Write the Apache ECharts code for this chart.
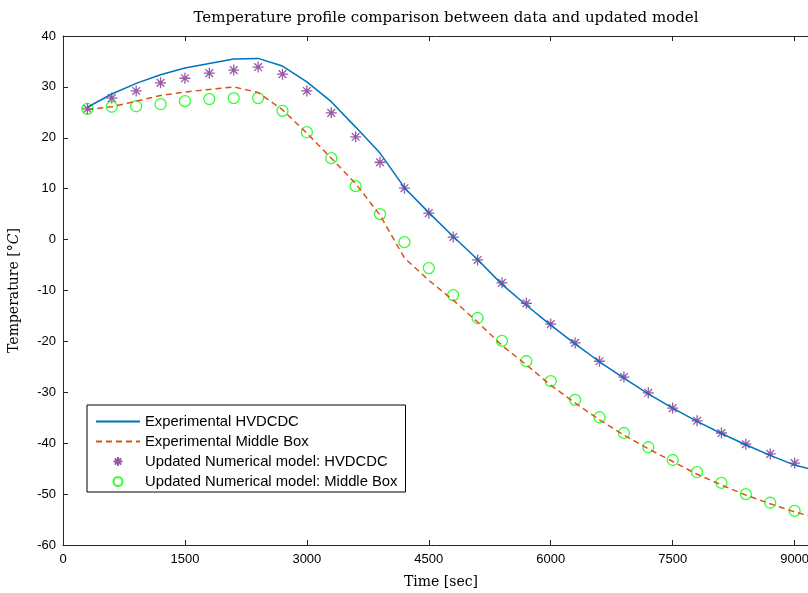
<!DOCTYPE html>
<html>
<head>
<meta charset="utf-8">
<script src="https://cdn.jsdelivr.net/npm/echarts@6/dist/echarts.min.js"></script>
<style>
  html, body { margin: 0; padding: 0; background: #fff; }
  #chart { width: 808px; height: 593px; }
</style>
</head>
<body>
<div id="chart"></div>
<script>
// time in seconds
const timeExp = [300, 600, 900, 1200, 1500, 1800, 2100, 2400, 2700, 3000, 3300, 3600, 3900, 4200, 4500, 4800,
  5100, 5400, 5700, 6000, 6300, 6600, 6900, 7200, 7500, 7800, 8100, 8400, 8700, 9000, 9300];
const expHvdcdc = [26.0, 28.6, 30.7, 32.4, 33.7, 34.6, 35.5, 35.6, 34.1, 31.0, 27.1, 22.1, 17.0, 10.2, 5.3, 0.6,
  -3.9, -8.8, -12.9, -16.8, -20.5, -24.0, -27.2, -30.3, -33.1, -35.7, -38.1, -40.3, -42.4, -44.3, -45.5];
const expMiddle = [25.5, 26.1, 27.2, 28.3, 29.0, 29.5, 30.0, 28.9, 25.5, 20.9, 16.0, 11.0, 4.8, -3.6, -8.0, -11.9,
  -16.2, -20.8, -24.6, -28.6, -32.1, -35.4, -38.4, -41.1, -43.6, -46.1, -48.2, -50.2, -51.9, -53.5, -54.8];

const timeNum = [300, 600, 900, 1200, 1500, 1800, 2100, 2400, 2700, 3000, 3300, 3600, 3900, 4200, 4500, 4800,
  5100, 5400, 5700, 6000, 6300, 6600, 6900, 7200, 7500, 7800, 8100, 8400, 8700, 9000];
const numHvdcdc = [25.7, 27.8, 29.2, 30.8, 31.7, 32.7, 33.3, 33.9, 32.5, 29.2, 24.9, 20.2, 15.2, 10.1, 5.2, 0.5,
  -4.0, -8.5, -12.5, -16.6, -20.3, -23.9, -27.0, -30.1, -33.1, -35.6, -38.0, -40.2, -42.1, -43.9];
const numMiddle = [25.7, 26.1, 26.2, 26.6, 27.2, 27.6, 27.8, 27.8, 25.3, 21.1, 16.0, 10.5, 5.0, -0.5, -5.6, -10.9,
  -15.4, -19.9, -23.9, -27.8, -31.5, -34.9, -38.0, -40.8, -43.3, -45.7, -47.8, -50.0, -51.7, -53.3];

const xTicks = [0, 1500, 3000, 4500, 6000, 7500, 9000];

const axisCol = '#262626';
const star = 'path://M0 5L10 5M5 0L5 10M1.5 1.5L8.5 8.5M8.5 1.5L1.5 8.5';

const zip = (xs, ys) => xs.map((x, i) => [x, ys[i]]);

let myChart = echarts.init(document.getElementById('chart'));
let option = {
  animation: false,
  title: {
    text: 'Temperature profile comparison between data and updated model',
    left: 441, textAlign: 'center', top: 6,
    textStyle: { fontFamily: 'DejaVu Serif', fontWeight: 'normal', fontSize: 15, color: '#000' }
  },
  grid: { left: 63, top: 36, bottom: 48, width: 756, outerBoundsMode: 'none' },
  xAxis: [{
    type: 'value', min: 0, max: 9300, interval: 1500,
    name: 'Time [sec]', nameLocation: 'middle', nameGap: 30,
    nameTextStyle: { fontFamily: 'DejaVu Serif', fontSize: 14, color: '#000' },
    axisLine: { onZero: false, lineStyle: { color: axisCol, width: 1 } },
    axisTick: { inside: true, length: 5, lineStyle: { color: axisCol } },
    axisLabel: { color: '#000', fontFamily: 'Liberation Sans', fontSize: 13, margin: 8,
      formatter: v => xTicks.includes(v) ? String(v) : '' },
    splitLine: { show: false }
  }, {
    type: 'value', position: 'top', min: 0, max: 9300, interval: 1500,
    axisLine: { onZero: false, lineStyle: { color: axisCol, width: 1 } },
    axisTick: { inside: true, length: 5, lineStyle: { color: axisCol } },
    axisLabel: { show: false }, splitLine: { show: false }
  }],
  yAxis: [{
    type: 'value', min: -60, max: 40, interval: 10,
    name: '{a|Temperature [°}{b|C}{a|]}', nameLocation: 'middle', nameGap: 42, nameRotate: 90,
    nameTextStyle: {
      rich: {
        a: { fontFamily: 'DejaVu Serif', fontSize: 14, color: '#000' },
        b: { fontFamily: 'DejaVu Serif', fontStyle: 'italic', fontSize: 14, color: '#000' }
      }
    },
    axisLine: { onZero: false, lineStyle: { color: axisCol, width: 1 } },
    axisTick: { inside: true, length: 5, lineStyle: { color: axisCol } },
    axisLabel: { color: '#000', fontFamily: 'Liberation Sans', fontSize: 13, margin: 7 },
    splitLine: { show: false }
  }, {
    type: 'value', position: 'right', min: -60, max: 40, interval: 10,
    axisLine: { onZero: false, lineStyle: { color: axisCol, width: 1 } },
    axisTick: { inside: true, length: 5, lineStyle: { color: axisCol } },
    axisLabel: { show: false }, splitLine: { show: false }
  }],
  legend: {
    orient: 'vertical', left: 87, top: 405,
    padding: [9, 8, 3, 8], itemGap: 5, itemWidth: 44, itemHeight: 9,
    backgroundColor: '#fff', borderColor: '#000', borderWidth: 1, borderRadius: 0,
    textStyle: { fontFamily: 'Liberation Sans', fontSize: 14.8, color: '#000' },
    data: [
      { name: 'Experimental HVDCDC', itemStyle: { opacity: 0 } },
      { name: 'Experimental Middle Box', itemStyle: { opacity: 0 } },
      { name: 'Updated Numerical model: HVDCDC' },
      { name: 'Updated Numerical model: Middle Box' }
    ]
  },
  series: [
    {
      name: 'Experimental HVDCDC', type: 'line', data: zip(timeExp, expHvdcdc),
      symbol: 'none', lineStyle: { color: '#0072BD', width: 1.5 }, itemStyle: { color: '#0072BD' }
    },
    {
      name: 'Experimental Middle Box', type: 'line', data: zip(timeExp, expMiddle),
      symbol: 'none', lineStyle: { color: '#D95319', width: 1.5, type: [6, 4] }, itemStyle: { color: '#D95319' }
    },
    {
      name: 'Updated Numerical model: HVDCDC', type: 'scatter', data: zip(timeNum, numHvdcdc),
      symbol: star, symbolSize: 11,
      itemStyle: { color: 'transparent', borderColor: '#7E2F8E', borderWidth: 1.3 }
    },
    {
      name: 'Updated Numerical model: Middle Box', type: 'scatter', data: zip(timeNum, numMiddle),
      symbol: 'circle', symbolSize: 11,
      itemStyle: { color: 'transparent', borderColor: '#00FF00', borderWidth: 1.3 }
    }
  ]
};
myChart.setOption(option);
</script>
</body>
</html>
